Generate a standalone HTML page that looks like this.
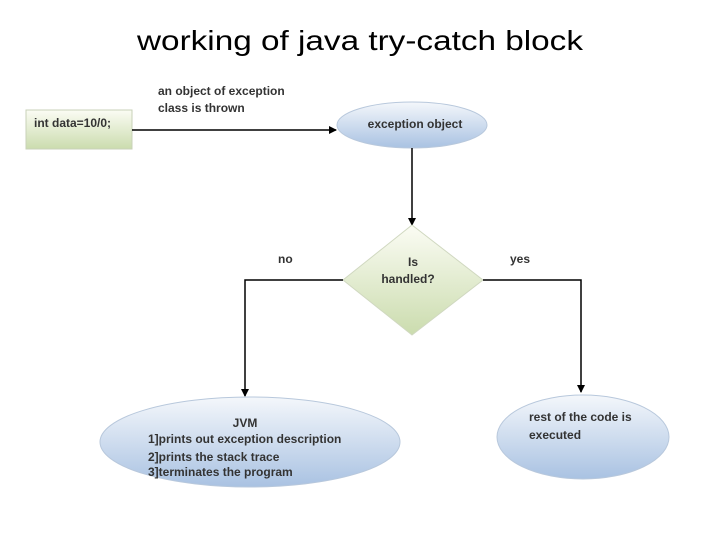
<!DOCTYPE html>
<html><head><meta charset="utf-8"><style>
html,body{margin:0;padding:0;background:#fff;width:720px;height:540px;overflow:hidden}
svg text{font-family:"Liberation Sans",sans-serif}
</style></head><body>
<svg width="720" height="540" viewBox="0 0 720 540" xmlns="http://www.w3.org/2000/svg">
<defs>
<linearGradient id="g" x1="0" y1="0" x2="0" y2="1"><stop offset="0" stop-color="#fbfcf4"/><stop offset="1" stop-color="#cbdcae"/></linearGradient>
<linearGradient id="b" x1="0" y1="0" x2="0" y2="1"><stop offset="0" stop-color="#f4f7fb"/><stop offset="1" stop-color="#a9c2e2"/></linearGradient>
<marker id="a" markerWidth="8" markerHeight="8" refX="7" refY="4" orient="auto" markerUnits="userSpaceOnUse"><path d="M0,0 L8,4 L0,8z" fill="#000"/></marker>
</defs>
<text x="360" y="50" font-size="28" text-anchor="middle" textLength="446" lengthAdjust="spacingAndGlyphs">working of java try-catch block</text>
<rect x="26" y="110" width="106" height="39" fill="url(#g)" stroke="#c8d2b8"/>
<text x="34" y="127" font-size="12" font-weight="bold" fill="#333">int data=10/0;</text>
<text x="158" y="95" font-size="12" font-weight="bold" fill="#333">an object of exception</text>
<text x="158" y="112" font-size="12" font-weight="bold" fill="#333">class is thrown</text>
<line x1="132" y1="130" x2="336" y2="130" stroke="#000" stroke-width="1.5" marker-end="url(#a)"/>
<ellipse cx="412" cy="125" rx="75" ry="23" fill="url(#b)" stroke="#b8c8dc"/>
<text x="415" y="128" font-size="12" font-weight="bold" fill="#333" text-anchor="middle">exception object</text>
<line x1="412" y1="148" x2="412" y2="225" stroke="#000" stroke-width="1.5" marker-end="url(#a)"/>
<polygon points="412,225 483,280 412,335 343,280" fill="url(#g)" stroke="#d0d8c0"/>
<text x="413" y="266" font-size="12" font-weight="bold" fill="#333" text-anchor="middle">Is</text>
<text x="408" y="283" font-size="12" font-weight="bold" fill="#333" text-anchor="middle">handled?</text>
<text x="278" y="263" font-size="12" font-weight="bold" fill="#333">no</text>
<text x="510" y="263" font-size="12" font-weight="bold" fill="#333">yes</text>
<polyline points="343,280 245,280 245,396" fill="none" stroke="#000" stroke-width="1.5" marker-end="url(#a)"/>
<polyline points="483,280 581,280 581,392" fill="none" stroke="#000" stroke-width="1.5" marker-end="url(#a)"/>
<ellipse cx="250" cy="442" rx="150" ry="45" fill="url(#b)" stroke="#b8c8dc"/>
<text x="245" y="427" font-size="12" font-weight="bold" fill="#333" text-anchor="middle">JVM</text>
<text x="148" y="443" font-size="12" font-weight="bold" fill="#333">1]prints out exception  description</text>
<text x="148" y="461" font-size="12" font-weight="bold" fill="#333">2]prints the stack trace</text>
<text x="148" y="476" font-size="12" font-weight="bold" fill="#333">3]terminates the program</text>
<ellipse cx="583" cy="437" rx="86" ry="42" fill="url(#b)" stroke="#b8c8dc"/>
<text x="529" y="421" font-size="12" font-weight="bold" fill="#333">rest of the code is</text>
<text x="529" y="439" font-size="12" font-weight="bold" fill="#333">executed</text>
</svg>
</body></html>
